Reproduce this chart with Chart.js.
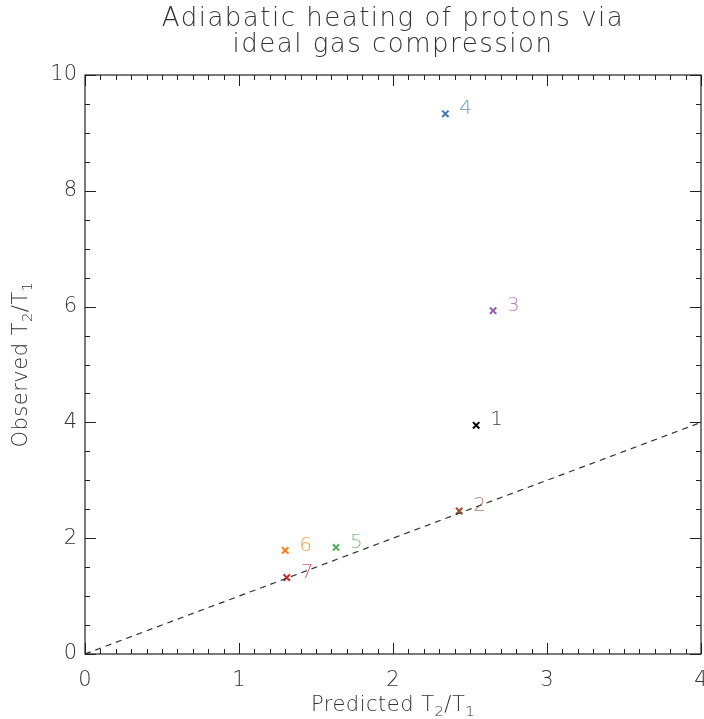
<!DOCTYPE html>
<html>
<head>
<meta charset="utf-8">
<script src="https://cdn.jsdelivr.net/npm/chart.js@4"></script>
<style>
  html, body { margin: 0; padding: 0; background: #fff; }
  #wrap { width: 704px; height: 719px; }
</style>
</head>
<body>
<div id="wrap"><canvas id="chart" width="704" height="719"></canvas></div>
<script>
// chart data
const xTicks = [0, 1, 2, 3, 4];
const yTicks = [0, 2, 4, 6, 8, 10];
const runLabels = ['1', '2', '3', '4', '5', '6', '7'];
const predicted = [2.54, 2.43, 2.65, 2.34, 1.63, 1.30, 1.31];
const observed = [3.95, 2.47, 5.93, 9.33, 1.84, 1.79, 1.32];
const runColors = ['#000000', '#a0522d', '#9b59b6', '#3f78b8', '#4caf50', '#ff7f0e', '#e02020'];
const refX = [0, 4];
const refY = [0, 4];

const FONT = '"DejaVu Sans", sans-serif';
const TEXT = '#333';

// draw text with subscript parts, centered at x
function drawRich(ctx, parts, x, y, size) {
    let w = 0;
    parts.forEach(p => {
        ctx.font = `200 ${p.sub ? size * 0.7 : size}px ${FONT}`;
        p.w = ctx.measureText(p.t).width;
        w += p.w;
    });
    let cx = x - w / 2;
    parts.forEach(p => {
        ctx.font = `200 ${p.sub ? size * 0.7 : size}px ${FONT}`;
        ctx.fillText(p.t, cx, p.sub ? y + size * 0.3 : y);
        cx += p.w;
    });
}

const framePlugin = {
    id: 'frame',
    afterDraw(chart) {
        const { ctx, chartArea: a, scales } = chart;
        const xs = scales.x, ys = scales.y;
        ctx.save();
        ctx.strokeStyle = '#222';
        ctx.lineWidth = 1.2;
        ctx.strokeRect(a.left, a.top, a.right - a.left, a.bottom - a.top);

        // x ticks (minor every 0.1, major every 1), top and bottom, inward
        ctx.lineWidth = 1;
        for (let i = 0; i <= 40; i++) {
            const px = Math.round(xs.getPixelForValue(i / 10)) + 0.5;
            const len = i % 10 === 0 ? 11 : 5;
            ctx.beginPath();
            ctx.moveTo(px, a.bottom); ctx.lineTo(px, a.bottom - len);
            ctx.moveTo(px, a.top); ctx.lineTo(px, a.top + len);
            ctx.stroke();
        }
        // y ticks (minor every 0.5, major every 2)
        for (let i = 0; i <= 20; i++) {
            const py = Math.round(ys.getPixelForValue(i / 2)) + 0.5;
            const len = i % 4 === 0 ? 11 : 5;
            ctx.beginPath();
            ctx.moveTo(a.left, py); ctx.lineTo(a.left + len, py);
            ctx.moveTo(a.right, py); ctx.lineTo(a.right - len, py);
            ctx.stroke();
        }

        // tick labels
        ctx.fillStyle = TEXT;
        ctx.font = `200 21px ${FONT}`;
        ctx.textAlign = 'center';
        ctx.textBaseline = 'middle';
        xTicks.forEach(v => ctx.fillText(String(v), xs.getPixelForValue(v), a.bottom + 27));
        ctx.textAlign = 'right';
        yTicks.forEach(v => ctx.fillText(String(v), a.left - 8, ys.getPixelForValue(v)));

        // point labels
        const meta = chart.getDatasetMeta(1);
        ctx.textAlign = 'left';
        ctx.font = `200 20px ${FONT}`;
        meta.data.forEach((pt, i) => {
            ctx.fillStyle = runColors[i];
            ctx.globalAlpha = 0.75;
            ctx.fillText(runLabels[i], pt.x + 14, pt.y - 5);
        });
        ctx.globalAlpha = 1;

        // titles
        ctx.fillStyle = TEXT;
        const cx = (a.left + a.right) / 2;
        ctx.font = `200 26px ${FONT}`;
        ctx.letterSpacing = '1.5px';
        ctx.textAlign = 'center';
        ctx.fillText('Adiabatic heating of protons via', cx, 19);
        ctx.fillText('ideal gas compression', cx, 45);

        ctx.letterSpacing = '0.5px';
        ctx.textAlign = 'left';
        drawRich(ctx, [{ t: 'Predicted T' }, { t: '2', sub: true }, { t: '/T' }, { t: '1', sub: true }], cx, a.bottom + 52, 21);

        ctx.translate(22, (a.top + a.bottom) / 2);
        ctx.rotate(-Math.PI / 2);
        drawRich(ctx, [{ t: 'Observed T' }, { t: '2', sub: true }, { t: '/T' }, { t: '1', sub: true }], 0, 0, 21);
        ctx.restore();
    }
};

new Chart(document.getElementById('chart'), {
    type: 'scatter',
    data: {
        datasets: [
            {
                type: 'line',
                data: refX.map((x, i) => ({ x: x, y: refY[i] })),
                borderColor: '#333',
                borderWidth: 1.2,
                borderDash: [6, 5],
                pointRadius: 0,
                fill: false
            },
            {
                data: predicted.map((x, i) => ({ x: x, y: observed[i] })),
                pointStyle: 'crossRot',
                pointRadius: 4.5,
                pointBorderWidth: 2,
                pointBorderColor: runColors,
                pointBackgroundColor: runColors
            }
        ]
    },
    options: {
        responsive: false,
        animation: false,
        layout: { autoPadding: false, padding: { left: 85, right: 3, top: 75, bottom: 65 } },
        plugins: { legend: { display: false }, tooltip: { enabled: false } },
        scales: {
            x: { type: 'linear', min: 0, max: 4, display: false },
            y: { type: 'linear', min: 0, max: 10, display: false }
        }
    },
    plugins: [framePlugin]
});
</script>
</body>
</html>
